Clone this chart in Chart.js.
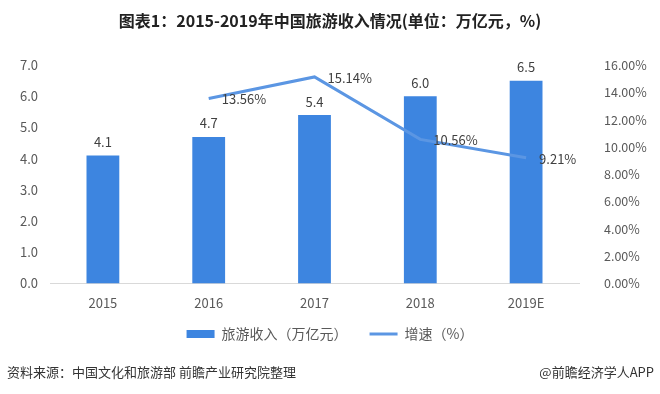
<!DOCTYPE html>
<html>
<head>
<meta charset="utf-8">
<script src="https://cdn.jsdelivr.net/npm/chart.js"></script>
<style>
  body { margin: 0; background: #fff; }
  #wrap { position: relative; width: 660px; height: 394px; }
  #source { position: absolute; left: 7px; top: 362px; font: 13px "Noto Sans CJK SC", sans-serif; color: #333; }
  #brand { position: absolute; right: 6px; top: 362px; font: 13px "Noto Sans CJK SC", sans-serif; color: #333; }
</style>
</head>
<body>
<div id="wrap">
  <canvas id="c" width="660" height="394"></canvas>
  <div id="source">资料来源：中国文化和旅游部 前瞻产业研究院整理</div>
  <div id="brand">@前瞻经济学人APP</div>
</div>
<script>
const years = ["2015", "2016", "2017", "2018", "2019E"];
const income = [4.1, 4.7, 5.4, 6.0, 6.5];
const growth = [null, 13.56, 15.14, 10.56, 9.21];

const barColor = "#3d85e0";
const lineColor = "#5b96e3";
const textColor = "#595959";
const cjk = "'Noto Sans CJK SC', 'Noto Sans', sans-serif";

// value labels: bars above, line to the right
const valueLabels = {
  id: "valueLabels",
  afterDatasetsDraw(chart) {
    const ctx = chart.ctx;
    ctx.save();
    ctx.font = "13px " + cjk;
    ctx.fillStyle = "#404040";
    chart.getDatasetMeta(0).data.forEach((bar, i) => {
      ctx.textAlign = "center";
      ctx.textBaseline = "bottom";
      ctx.fillText(income[i].toFixed(1), bar.x, bar.y - 7);
    });
    chart.getDatasetMeta(1).data.forEach((pt, i) => {
      if (growth[i] == null) return;
      ctx.textAlign = "left";
      ctx.textBaseline = "middle";
      ctx.fillText(growth[i].toFixed(2) + "%", pt.x + 13, pt.y + 1);
    });
    ctx.restore();
  }
};

// pull the legend up closer to the axis labels
const legendShift = {
  id: "legendShift",
  afterLayout(chart) {
    if (!chart.legend) return;
    chart.legend.top -= 18;
    chart.legend.bottom -= 18;
  }
};

new Chart(document.getElementById("c"), {
  data: {
    labels: years,
    datasets: [
      {
        type: "bar",
        label: "旅游收入（万亿元）",
        data: income,
        backgroundColor: barColor,
        yAxisID: "y",
        barPercentage: 0.31,
        categoryPercentage: 1,
        order: 2
      },
      {
        type: "line",
        label: "增速（%）",
        data: growth,
        borderColor: lineColor,
        backgroundColor: lineColor,
        borderWidth: 3,
        pointRadius: 0,
        tension: 0,
        yAxisID: "y1",
        order: 1
      }
    ]
  },
  plugins: [valueLabels, legendShift],
  options: {
    responsive: false,
    animation: false,
    layout: { padding: { left: 0, right: 0, top: 0, bottom: 25 } },
    plugins: {
      title: {
        display: true,
        text: "图表1：2015-2019年中国旅游收入情况(单位：万亿元，%)",
        color: "#222",
        font: { family: cjk, size: 16, weight: "bold" },
        padding: { top: 11, bottom: 35 }
      },
      legend: {
        position: "bottom",
        labels: {
          usePointStyle: true,
          pointStyleWidth: 28,
          boxHeight: 8,
          padding: 22,
          color: textColor,
          font: { family: cjk, size: 14 },
          generateLabels(chart) {
            return chart.data.datasets.map((ds, i) => ({
              text: ds.label,
              datasetIndex: i,
              fillStyle: ds.type === "bar" ? barColor : lineColor,
              strokeStyle: ds.type === "bar" ? barColor : lineColor,
              lineWidth: ds.type === "bar" ? 0 : 3,
              pointStyle: ds.type === "bar" ? "rect" : "line",
              fontColor: textColor
            }));
          }
        }
      },
      tooltip: { enabled: false }
    },
    scales: {
      x: {
        grid: { display: false, drawTicks: false },
        border: { color: "#d9d9d9" },
        ticks: { color: textColor, font: { family: cjk, size: 13 }, padding: 12 }
      },
      y: {
        position: "left",
        min: 0,
        max: 7,
        grid: { display: false, drawTicks: false },
        border: { display: false },
        ticks: {
          stepSize: 1,
          padding: 12,
          color: textColor,
          font: { family: cjk, size: 13 },
          callback: v => v.toFixed(1)
        },
        afterFit: s => { s.width = 50; }
      },
      y1: {
        position: "right",
        min: 0,
        max: 16,
        grid: { display: false, drawTicks: false },
        border: { display: false },
        ticks: {
          stepSize: 2,
          padding: 25,
          color: textColor,
          font: { family: cjk, size: 12.5 },
          callback: v => v.toFixed(2) + "%"
        },
        afterFit: s => { s.width = 81; }
      }
    }
  }
});
</script>
</body>
</html>
